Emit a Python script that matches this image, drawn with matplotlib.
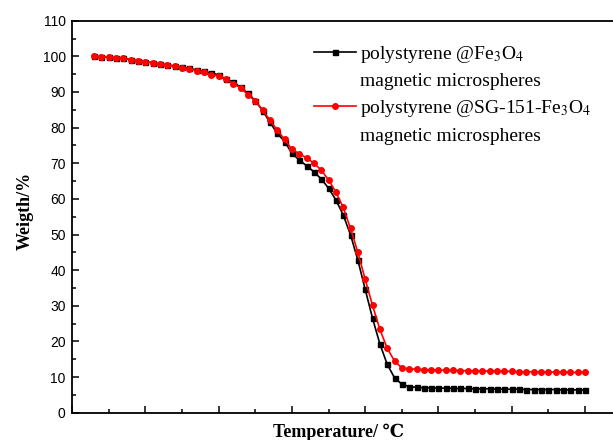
import matplotlib.pyplot as plt
from matplotlib.lines import Line2D
from matplotlib.ticker import MultipleLocator, NullFormatter

# Temperature points (~10 degree steps)
temps = list(range(30, 710, 10))

# polystyrene @Fe3O4 magnetic microspheres
w_fe3o4 = [100.0, 99.9, 99.8, 99.6, 99.4, 99.1, 98.8, 98.5, 98.2, 97.9,
           97.6, 97.3, 97.0, 96.6, 96.2, 95.8, 95.3, 94.8, 93.6, 92.8,
           91.3, 89.6, 87.6, 84.8, 81.5, 78.4, 76.1, 72.8, 70.9, 69.3,
           67.6, 65.6, 63.0, 59.7, 55.5, 49.9, 42.8, 34.6, 26.5, 19.3,
           13.6, 9.8, 8.0, 7.3, 7.1, 7.0, 7.0, 6.9, 6.9, 6.8,
           6.8, 6.8, 6.7, 6.7, 6.7, 6.6, 6.6, 6.6, 6.6, 6.5,
           6.5, 6.5, 6.5, 6.5, 6.4, 6.4, 6.4, 6.4]

# polystyrene @SG-151-Fe3O4 magnetic microspheres
w_sg151 = [100.0, 99.9, 99.8, 99.6, 99.4, 99.1, 98.8, 98.5, 98.2, 97.9,
           97.6, 97.2, 96.8, 96.4, 96.0, 95.5, 94.9, 94.5, 93.6, 92.3,
           91.2, 89.2, 87.5, 84.9, 82.1, 79.3, 76.7, 73.9, 72.7, 71.5,
           70.0, 68.1, 65.3, 61.9, 57.6, 51.7, 45.0, 37.4, 30.1, 23.4,
           18.1, 14.5, 12.6, 12.3, 12.2, 12.1, 12.0, 12.0, 11.9, 11.9,
           11.8, 11.8, 11.7, 11.7, 11.7, 11.6, 11.6, 11.6, 11.5, 11.5,
           11.5, 11.4, 11.4, 11.4, 11.4, 11.3, 11.3, 11.3]

serif = ['Liberation Serif', 'DejaVu Serif']
plt.rcParams['mathtext.fontset'] = 'stix'

fig = plt.figure(figsize=(6.13, 4.40), dpi=100)
# the right spine falls outside the picture, as in the original
ax = fig.add_axes([72 / 613, 27.3 / 440, 586.4 / 613, 392 / 440])

ax.plot(temps, w_fe3o4, color='black', lw=1.2, marker='s', ms=3.6)
ax.plot(temps, w_sg151, color='red', lw=1.2, marker='o', ms=4.0)

ax.set_xlim(0, 800)
ax.set_ylim(0, 110)
ax.xaxis.set_major_locator(MultipleLocator(100))
ax.xaxis.set_minor_locator(MultipleLocator(50))
ax.xaxis.set_major_formatter(NullFormatter())
ax.yaxis.set_major_locator(MultipleLocator(10))
ax.yaxis.set_minor_locator(MultipleLocator(5))
ax.tick_params(which='both', direction='in', width=1.1)
ax.tick_params(which='major', length=5, labelsize=10, pad=4.5)
ax.tick_params(which='minor', length=3)
for lbl in ax.get_yticklabels():
  lbl.set_family('Liberation Sans')
for sp in ax.spines.values():
  sp.set_linewidth(1.3)

ax.set_xlabel('Temperature/ ℃', family=serif, fontweight='bold', fontsize=13)
ax.set_ylabel('Weigth/%', family=serif, fontweight='bold', fontsize=13)
ax.xaxis.set_label_coords(0.455, -0.027)
ax.xaxis.label.set_va('top')
ax.yaxis.set_label_coords(-0.080, 0.5145)
ax.yaxis.label.set_va('center')

# Legend: two-line labels, handle only on the first line
blank = Line2D([], [], color='none')
handles = [
  Line2D([], [], color='black', lw=1.2, marker='s', ms=3.6),
  blank,
  Line2D([], [], color='red', lw=1.2, marker='o', ms=4.0),
  blank,
]
labels = [
  'polystyrene @Fe$_3$O$_4$',
  'magnetic microspheres',
  'polystyrene @SG-151-Fe$_3$O$_4$',
  'magnetic microspheres',
]
ax.legend(handles, labels, loc='upper left', bbox_to_anchor=(0.382, 0.985),
          frameon=False, handlelength=2.2, handletextpad=0.2,
          labelspacing=0.4, prop={'family': 'Liberation Serif', 'size': 14})

plt.savefig('out.png', dpi=100)
plt.close()
